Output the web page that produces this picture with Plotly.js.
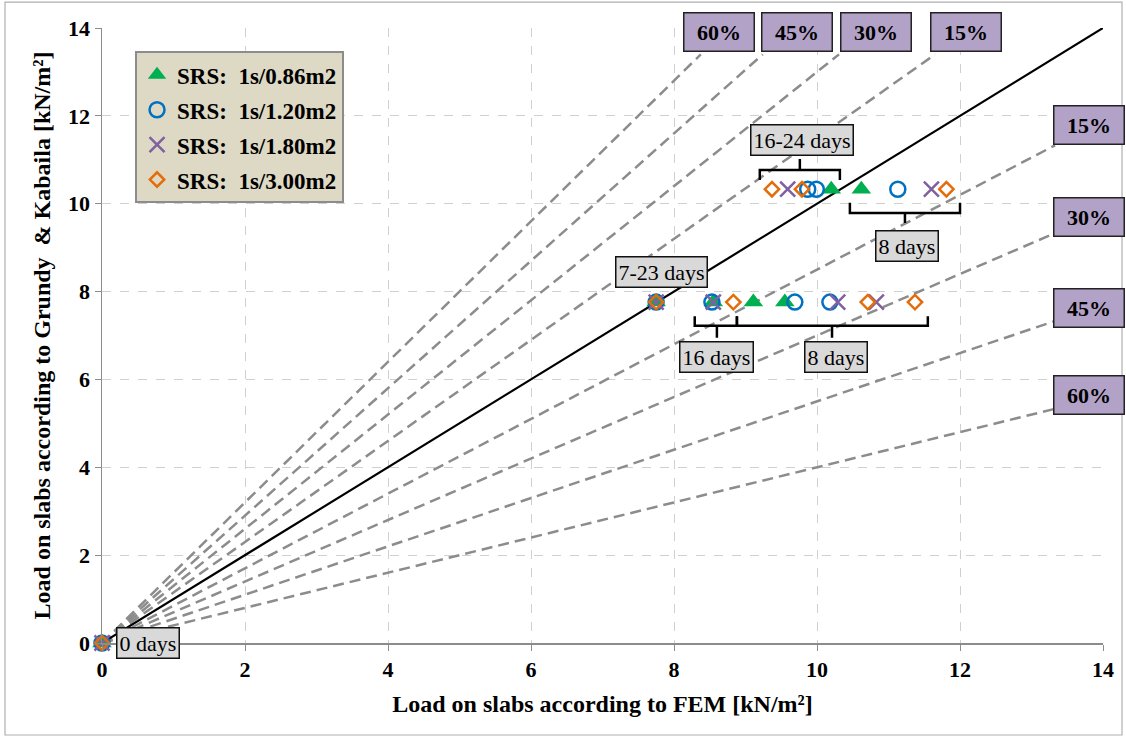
<!DOCTYPE html>
<html>
<head>
<meta charset="utf-8">
<script src="https://cdn.plot.ly/plotly-3.0.1.min.js"></script>
<style>
html,body{margin:0;padding:0;background:#fff;}
#chart{width:1126px;height:740px;}
</style>
</head>
<body>
<div id="chart"></div>
<script>
// ---- data ----
var seriesNames = ["SRS:  1s/0.86m2", "SRS:  1s/1.20m2", "SRS:  1s/1.80m2", "SRS:  1s/3.00m2"];
var s086_x = [0, 7.75, 8.55, 9.11, 9.55, 10.20, 10.62];
var s086_y = [0, 7.76, 7.76, 7.76, 7.76, 10.33, 10.33];
var s120_x = [0, 7.75, 8.53, 9.69, 10.18, 9.87, 9.99, 11.13];
var s120_y = [0, 7.76, 7.76, 7.76, 7.76, 10.33, 10.33, 10.33];
var s180_x = [0, 7.75, 8.55, 10.29, 10.83, 9.59, 11.60];
var s180_y = [0, 7.76, 7.76, 7.76, 7.76, 10.33, 10.33];
var s300_x = [0, 7.75, 8.83, 10.71, 11.37, 9.37, 9.79, 11.81];
var s300_y = [0, 7.76, 7.76, 7.76, 7.76, 10.33, 10.33, 10.33];

var pctLevels = [15, 30, 45, 60];
var pctLabels = ["15%", "30%", "45%", "60%"];
var dayLabels = ["16-24 days", "8 days", "7-23 days", "16 days", "8 days", "0 days"];
var dayLabelX = [9.79, 11.26, 7.83, 8.60, 10.27, 0.64];
var dayLabelY = [11.45, 9.04, 8.45, 6.51, 6.51, 0.0];
var topLabelX = [12.08, 10.83, 9.72, 8.63];   // 15,30,45,60 (upper lines)
var rightLabelY = [11.79, 9.70, 7.63, 5.65];  // 15,30,45,60 (lower lines)
var xTicks = [0, 2, 4, 6, 8, 10, 12, 14];
var yTicks = [0, 2, 4, 6, 8, 10, 12, 14];

// ---- style ----
var SERIF = "Liberation Serif, Times New Roman, serif";
var colors = ["#00B050", "#0070C0", "#7F60A0", "#E46C0A"];

var traces = [];
var upperEndY = 13.4, lowerEndX = 13.33;
pctLevels.forEach(function (p) {
  var f = 1 + p / 100;
  traces.push({x: [0, upperEndY / f], y: [0, upperEndY], mode: "lines", showlegend: false, hoverinfo: "skip",
    line: {color: "#8c8c8c", width: 2.5, dash: "11px,6px"}});
});
pctLevels.forEach(function (p) {
  var f = 1 - p / 100;
  traces.push({x: [0, lowerEndX], y: [0, lowerEndX * f], mode: "lines", showlegend: false, hoverinfo: "skip",
    line: {color: "#8c8c8c", width: 2.5, dash: "11px,6px"}});
});
traces.push({x: [0, 14], y: [0, 14], mode: "lines", showlegend: false, hoverinfo: "skip",
  line: {color: "#000", width: 2.2}});

var sx = [s086_x, s120_x, s180_x, s300_x];
var sy = [s086_y, s120_y, s180_y, s300_y];
var markers = [
  {symbol: "triangle-up", size: 17, color: colors[0], line: {width: 0}},
  {symbol: "circle-open", size: 15, color: colors[1], line: {width: 2.5, color: colors[1]}},
  {symbol: "x-thin-open", size: 15, color: colors[2], line: {width: 2.5, color: colors[2]}},
  {symbol: "diamond-open", size: 11, color: colors[3], line: {width: 2.5, color: colors[3]}}
];
for (var i = 0; i < 4; i++) {
  traces.push({x: sx[i], y: sy[i], mode: "markers", name: seriesNames[i], legendgroup: "g" + i,
    marker: markers[i], cliponaxis: false});
}

var annotations = [];
pctLabels.forEach(function (t, i) {
  annotations.push({x: topLabelX[i], y: 13.91, xref: "x", yref: "y", text: "<b>" + t + "</b>", showarrow: false,
    font: {family: SERIF, size: 22, color: "#000"}, bgcolor: "#B3A2C7", bordercolor: "#222", borderwidth: 1.5,
    width: 65, height: 33, borderpad: 2});
  annotations.push({x: 13.8, y: rightLabelY[i], xref: "x", yref: "y", text: "<b>" + t + "</b>", showarrow: false,
    font: {family: SERIF, size: 22, color: "#000"}, bgcolor: "#B3A2C7", bordercolor: "#222", borderwidth: 1.5,
    width: 65, height: 33, borderpad: 2});
});
dayLabels.forEach(function (t, i) {
  annotations.push({x: dayLabelX[i], y: dayLabelY[i], xref: "x", yref: "y", text: t, showarrow: false,
    font: {family: SERIF, size: 22, color: "#000"}, bgcolor: "#D9D9D9", bordercolor: "#111", borderwidth: 1.5,
    borderpad: 2});
});

// brackets: [x0, x1, xc, yLine, yHook, yTick]
var brackets = [
  [9.20, 10.32, 9.76, 10.77, 10.54, 11.02],
  [10.46, 12.00, 11.23, 9.79, 10.02, 9.56],
  [8.29, 8.88, 8.60, 7.22, 7.44, 6.95],
  [8.88, 11.55, 10.21, 7.22, 7.44, 6.95]
];
var shapes = brackets.map(function (b) {
  var path = "M" + b[0] + "," + b[4] + " L" + b[0] + "," + b[3] + " L" + b[1] + "," + b[3] + " L" + b[1] + "," + b[4] +
    " M" + b[2] + "," + b[3] + " L" + b[2] + "," + b[5];
  return {type: "path", xref: "x", yref: "y", path: path, line: {color: "#000", width: 2.5}};
});
shapes.push({type: "rect", xref: "paper", yref: "paper", x0: -0.0969, x1: 1.019, y0: -0.1496, y1: 1.042,
  line: {color: "#b0b0b0", width: 1.2}, fillcolor: "rgba(0,0,0,0)", layer: "below"});

var layout = {
  width: 1126, height: 740,
  margin: {l: 102, r: 23, t: 28, b: 97},
  paper_bgcolor: "#fff", plot_bgcolor: "#fff",
  showlegend: true,
  legend: {x: 0.033, y: 0.962, xanchor: "left", yanchor: "top", bgcolor: "#DDD9C4", bordercolor: "#8c8c8c",
    borderwidth: 2, font: {family: SERIF, size: 23, color: "#000", weight: "bold"}, traceorder: "grouped",
    tracegroupgap: 2, itemwidth: 30},
  xaxis: {range: [0, 14], tickvals: xTicks, ticktext: xTicks.map(String), showgrid: true, gridcolor: "#d0d0d0",
    griddash: "dash", gridwidth: 1, zeroline: false, showline: true, linecolor: "#8c8c8c", linewidth: 1.5,
    ticks: "outside", ticklen: 6, tickcolor: "#8c8c8c", tickfont: {family: SERIF, size: 22, color: "#000", weight: "bold"},
    title: {text: "<b>Load on slabs according to FEM [kN/m²]</b>", font: {family: SERIF, size: 24, color: "#000"}, standoff: 14}},
  yaxis: {range: [0, 14], tickvals: yTicks, ticktext: yTicks.map(String), showgrid: true, gridcolor: "#d0d0d0",
    griddash: "dash", gridwidth: 1, zeroline: false, showline: true, linecolor: "#8c8c8c", linewidth: 1.5,
    ticks: "outside", ticklen: 6, tickcolor: "#8c8c8c", tickfont: {family: SERIF, size: 22, color: "#000", weight: "bold"},
    title: {text: "<b>Load on slabs according to Grundy  &amp; Kabaila [kN/m²]</b>", font: {family: SERIF, size: 24, color: "#000"}, standoff: 10}},
  annotations: annotations,
  shapes: shapes
};

Plotly.newPlot("chart", traces, layout, {displayModeBar: false, staticPlot: true});
</script>
</body>
</html>
